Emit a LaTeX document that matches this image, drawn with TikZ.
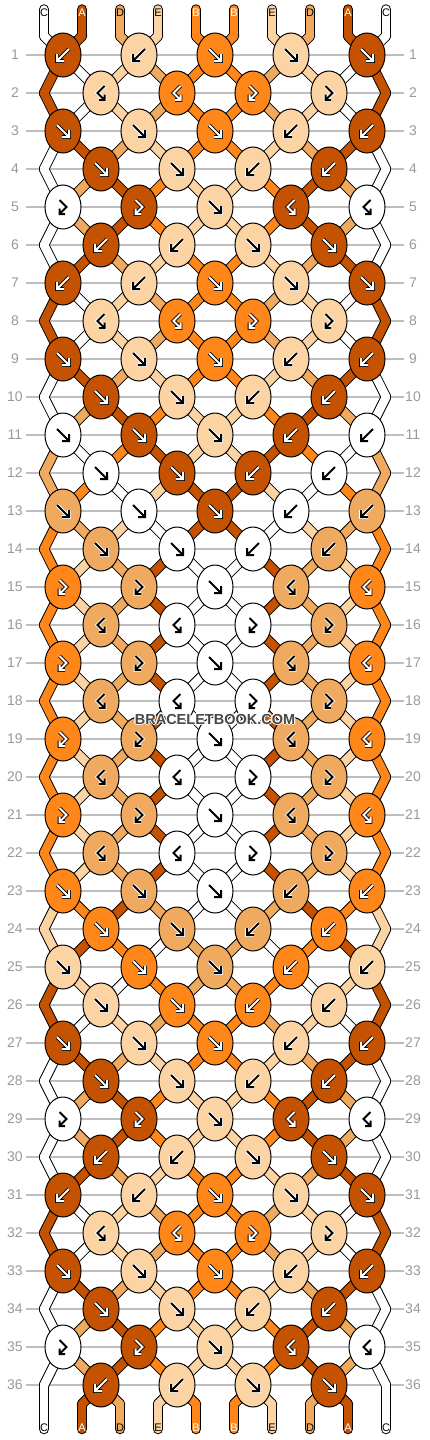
\documentclass[tikz,border=0pt]{standalone}
\usepackage{fontspec}
\setmainfont{Liberation Sans}
\usetikzlibrary{shapes.geometric}

\definecolor{strA}{HTML}{C45200}
\definecolor{strB}{HTML}{FF8619}
\definecolor{strC}{HTML}{FFFFFF}
\definecolor{strD}{HTML}{F0AA60}
\definecolor{strE}{HTML}{FCD4A4}
\colorlet{inkA}{white}\colorlet{haloA}{black}
\colorlet{inkB}{white}\colorlet{haloB}{black}
\colorlet{inkC}{black}\colorlet{haloC}{white}
\colorlet{inkD}{black}\colorlet{haloD}{white}
\colorlet{inkE}{black}\colorlet{haloE}{white}
\definecolor{linegray}{HTML}{BEBEBE}
\definecolor{labgray}{HTML}{9A9A9A}

% thread colours after each row
\def\stO{C,A,D,E,B,B,E,D,A,C}
\def\stI{A,C,E,D,B,B,D,E,C,A}
\def\stIV{C,D,A,B,E,E,B,A,D,C}
\def\stXI{D,C,B,A,E,E,A,B,C,D}
\def\stXII{D,B,C,E,A,A,E,C,B,D}
\def\stXIII{B,D,E,C,A,A,C,E,D,B}
\def\stXIV{B,E,D,A,C,C,A,D,E,B}
\def\stXXIII{E,B,A,D,C,C,D,A,B,E}
\def\stXXIV{E,A,B,C,D,D,C,B,A,E}
\def\stXXV{A,E,C,B,D,D,B,C,E,A}

% knots: colour/type (f forward, b backward, x forward-backward, y backward-forward)
\def\rowone{A/b,E/b,B/f,E/f,A/f}
\def\rowtwo{E/y,B/y,B/x,E/x}
\def\rowthree{A/f,E/f,B/f,E/b,A/b}
\def\rowfour{A/f,E/f,E/b,A/b}
\def\rowfive{C/x,A/x,E/f,A/y,C/y}
\def\rowsix{A/b,E/b,E/f,A/f}
\def\roweleven{C/f,A/f,E/f,A/b,C/b}
\def\rowtwelve{C/f,A/f,A/b,C/b}
\def\rowthirteen{D/f,C/f,A/f,C/b,D/b}
\def\rowfourteen{D/f,C/f,C/b,D/b}
\def\rowodd{B/x,D/x,C/f,D/y,B/y}
\def\roweven{D/y,C/y,C/x,D/x}
\def\rowtwentythree{B/f,D/f,C/f,D/b,B/b}
\def\rowtwentyfour{B/f,D/f,D/b,B/b}
\def\rowtwentyfive{E/f,B/f,D/f,B/b,E/b}
\def\rowtwentysix{E/f,B/f,B/b,E/b}

\tikzset{
  pics/arr f/.style={code={\path[pic actions] (-6,-6) -- (6,6) (-1,6) -- (6,6) -- (6,-1);}},
  pics/arr b/.style={code={\path[pic actions] (6,-6) -- (-6,6) (1,6) -- (-6,6) -- (-6,-1);}},
  pics/arr x/.style={code={\path[pic actions] (-3.5,-7) -- (3.5,0) -- (-3.5,7) (-3.5,1.5) -- (-3.5,7) -- (2,7);}},
  pics/arr y/.style={code={\path[pic actions] (3.5,-7) -- (-3.5,0) -- (3.5,7) (3.5,1.5) -- (3.5,7) -- (-2,7);}}
}

\begin{document}
\begin{tikzpicture}[x=1pt, y=-1pt,
declare function={kx(\r,\p)=(mod(\r,2)==1) ? 63+76*floor(\p/2) : ((\p==0) ? 44 : ((\p==9) ? 386 : 101+76*floor((\p-1)/2)));},
band/.style={draw=black, line width=10.5, line cap=round},
bandfill/.style={line width=8.5, line cap=round},
knot/.style={ellipse, draw=black, line width=1, minimum width=36, minimum height=44, inner sep=0},
rowline/.style={draw=linegray, line width=1.3},
rowlab/.style={text=labgray, font=\fontsize{14}{16}\selectfont, inner sep=0},
endlab/.style={font=\fontsize{11}{12}\selectfont, inner sep=0},
wmark/.style={font=\bfseries\fontsize{14.5}{16}\selectfont, text=black!72}
]
\fill[white] (0,0) rectangle (430,1440);
\useasboundingbox (0,0) rectangle (430,1440);

% row lines and numbers
\foreach \r in {1,...,36}{
  \draw[rowline] (26,{55+38*(\r-1)}) -- (404,{55+38*(\r-1)});
  \node[rowlab] (ll-\r) at (15,{55+38*(\r-1)}) {\r};
  \node[rowlab] (lr-\r) at (413,{55+38*(\r-1)}) {\r};
}

% thread points
\foreach \p in {0,...,9}{
  \pgfmathsetmacro\sx{44+38*\p}
  \coordinate (top-\p) at (\sx,9.5);
  \coordinate (s-0-\p) at (\sx,36);
  \coordinate (s-37-\p) at (\sx,1404);
  \coordinate (bot-\p) at (\sx,1429);
  \foreach \r in {1,...,36}{
    \coordinate (s-\r-\p) at ({kx(\r,\p)},{55+38*(\r-1)});
  }
}

% threads: outlines first, then colours
\foreach \pass in {0,1}{
  \foreach [count=\r from 0] \st in {\stO,\stI,\stI,\stO,\stIV,\stIV,\stO,\stI,\stI,\stO,\stIV,
      \stXI,\stXII,\stXIII,\stXIV,\stXIV,\stXIV,\stXIV,\stXIV,\stXIV,\stXIV,\stXIV,\stXIV,
      \stXXIII,\stXXIV,\stXXV,\stI,\stO,\stIV,\stIV,\stO,\stI,\stI,\stO,\stIV,\stIV,\stO}{
    \edef\cur{\st}
    \pgfmathtruncatemacro\nxt{\r+1}
    \foreach [count=\p from 0] \col in \cur {
      \ifnum\pass=0
        \draw[band] (s-\r-\p) -- (s-\nxt-\p);
      \else
        \draw[bandfill, draw=str\col] (s-\r-\p) -- (s-\nxt-\p);
      \fi
    }
  }
  \foreach [count=\p from 0] \col in \stO {
    \ifnum\pass=0
      \draw[band] (top-\p) -- (s-0-\p);
      \draw[band] (s-37-\p) -- (bot-\p);
    \else
      \draw[bandfill, draw=str\col] (top-\p) -- (s-0-\p);
      \draw[bandfill, draw=str\col] (s-37-\p) -- (bot-\p);
    \fi
  }
}

% thread names
\foreach [count=\p from 0] \col in \stO {
  \node[endlab, text=ink\col] (tl-\p) at ({44+38*\p},12.5) {\col};
  \node[endlab, text=ink\col] (bl-\p) at ({44+38*\p},1427.5) {\col};
}

% knots
\foreach [count=\r] \rowpat in {\rowone,\rowtwo,\rowthree,\rowfour,\rowfive,\rowsix,
    \rowone,\rowtwo,\rowthree,\rowfour,\roweleven,\rowtwelve,\rowthirteen,\rowfourteen,
    \rowodd,\roweven,\rowodd,\roweven,\rowodd,\roweven,\rowodd,\roweven,
    \rowtwentythree,\rowtwentyfour,\rowtwentyfive,\rowtwentysix,
    \rowthree,\rowfour,\rowfive,\rowsix,\rowone,\rowtwo,\rowthree,\rowfour,\rowfive,\rowsix}{
  \edef\cur{\rowpat}
  \foreach [count=\i from 0] \col/\ty in \cur {
    \pgfmathsetmacro\knx{mod(\r,2)==1 ? 63+76*\i : 101+76*\i}
    \node[knot, fill=str\col] (k-\r-\i) at (\knx,{55+38*(\r-1)}) {};
    \pic[draw=halo\col, line width=3.8] at (k-\r-\i) {arr \ty};
    \pic[draw=ink\col, line width=2] at (k-\r-\i) {arr \ty};
  }
}

% watermark with a light halo
\foreach \dx/\dy in {-1.2/0,1.2/0,0/-1.2,0/1.2,-0.9/-0.9,0.9/0.9,-0.9/0.9,0.9/-0.9}{
  \node[wmark, text=white, text opacity=0.8] at ({215+\dx},{719+\dy}) {BRACELETBOOK.COM};
}
\node[wmark] (wm) at (215,719) {BRACELETBOOK.COM};
\end{tikzpicture}
\end{document}
